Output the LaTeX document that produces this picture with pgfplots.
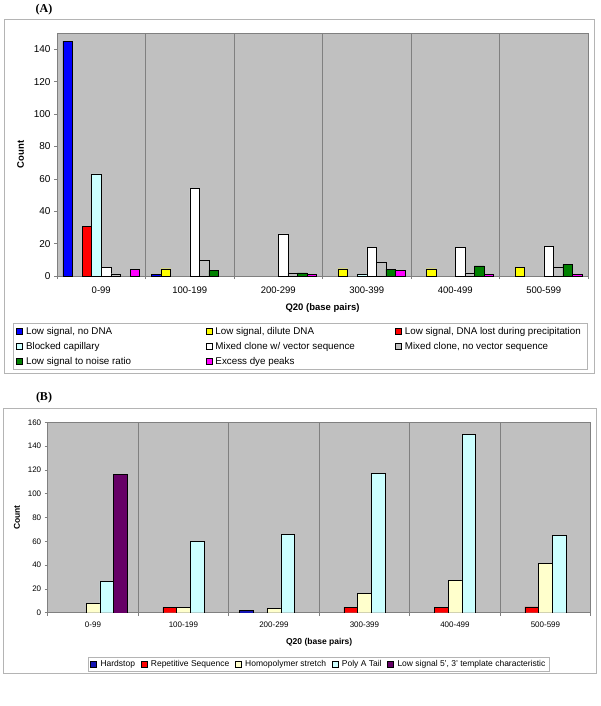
\documentclass[border=0pt]{standalone}
\usepackage{fontspec}
\setmainfont{Liberation Sans}
\newfontfamily\tnr{Liberation Serif}
\usepackage{pgfplots}
\pgfplotsset{compat=1.18}
\definecolor{bgc}{HTML}{C0C0C0}
\definecolor{axc}{HTML}{808080}
\definecolor{frm}{HTML}{B4B4B4}
\definecolor{cblue}{HTML}{0000FF}
\definecolor{cyel}{HTML}{FFFF00}
\definecolor{cred}{HTML}{FF0000}
\definecolor{ccyan}{HTML}{CCFFFF}
\definecolor{cgrey}{HTML}{C0C0C0}
\definecolor{cgreen}{HTML}{008000}
\definecolor{cmag}{HTML}{FF00FF}
\definecolor{bblue}{HTML}{1414B4}
\definecolor{bhom}{HTML}{FFFFCC}
\definecolor{bpur}{HTML}{660066}
\pgfplotsset{
  sqleg/.style={legend image code/.code={\draw[##1,line width=0.4pt,draw=black] (0pt,-3pt) rectangle (6pt,3pt);}},
  excel/.style={
    scale only axis, ybar=0pt,
    xmin=-0.5, xmax=5.5, ymin=0,
    xtick={0,...,5},
    xticklabels={0-99,100-199,200-299,300-399,400-499,500-599},
    minor xtick={-0.5,0.5,...,5.5},
    xminorgrids=true,
    minor x grid style={color=axc,line width=0.5pt},
    major x tick style={draw=none},
    minor x tick style={color=axc,line width=0.5pt},
    y tick style={color=axc,line width=0.5pt},
    minor tick length=3pt, major tick length=3pt,
    tick align=outside,
    xtick pos=bottom, ytick pos=left,
    axis line style={color=axc,line width=0.6pt},
    axis background/.style={fill=bgc},
    /pgf/number format/assume math mode=true,
    every axis plot/.append style={draw=black,line width=0.4pt},
    every axis plot post/.append style={sqleg},
    legend cell align=left,
  }
}
\begin{document}
\begin{tikzpicture}
\useasboundingbox (0,0) rectangle (600pt,-706pt);
\draw[color=frm,line width=0.6pt] (4pt,-19pt) rectangle (594pt,-373pt);
\draw[color=frm,line width=0.6pt] (3pt,-408pt) rectangle (596pt,-673pt);
\node[font=\tnr\bfseries\fontsize{12}{14}\selectfont] at (44pt,-10pt) {(A)};
\node[font=\tnr\bfseries\fontsize{12}{14}\selectfont] at (44pt,-398pt) {(B)};

\begin{axis}[excel,
  at={(57pt,-33pt)}, anchor=north west,
  width=531pt, height=243pt,
  bar width=9.6pt,
  ymax=150, ytick={0,20,...,140},
  tick label style={font=\fontsize{9.5}{11}\selectfont},
  xticklabel style={yshift=-4pt},
  yticklabel style={font=\fontsize{10}{11}\selectfont},
  xlabel={\textbf{Q20 (base pairs)}},
  ylabel={\textbf{Count}},
  every axis x label/.style={at={(axis description cs:0.5,-0.1317)},anchor=center,font=\fontsize{9.5}{11}\selectfont},
  every axis y label/.style={at={(axis description cs:-0.0684,0.5)},rotate=90,anchor=center,font=\fontsize{9.5}{11}\selectfont},
  legend columns=3,
  legend style={at={(axis description cs:-0.0829,-0.1934)},anchor=north west,
    draw=frm, fill=white, font=\fontsize{9.8}{11}\selectfont,
    nodes={inner sep=1.5pt,text height=8.5pt,text depth=1.5pt},
    /tikz/every odd column/.append style={column sep=2pt},
    row sep=2pt, inner xsep=3pt, inner ysep=1.5pt},
]
\addplot[fill=cblue] coordinates {(0,145) (1,1)};
\addplot[fill=cyel] coordinates {(1,4.5) (3,4.5) (4,4.5) (5,5.4)};
\addplot[fill=cred] coordinates {(0,31)};
\addplot[fill=ccyan] coordinates {(0,63) (3,1)};
\addplot[fill=white] coordinates {(0,5.4) (1,54) (2,26) (3,17.6) (4,17.6) (5,18.4)};
\addplot[fill=cgrey] coordinates {(0,1.4) (1,9.5) (2,1.8) (3,8.3) (4,1.9) (5,5.2)};
\addplot[fill=cgreen] coordinates {(1,3.5) (2,2) (3,4.3) (4,6.2) (5,7.2)};
\addplot[fill=cmag] coordinates {(0,4.3) (2,1) (3,3.5) (4,1) (5,1)};
\legend{\makebox[178pt][l]{Low signal, no DNA},
        \makebox[178pt][l]{Low signal, dilute DNA},
        \makebox[178pt][l]{Low signal, DNA lost during precipitation},
        \makebox[178pt][l]{Blocked capillary},
        \makebox[178pt][l]{Mixed clone w/ vector sequence},
        \makebox[178pt][l]{Mixed clone, no vector sequence},
        \makebox[178pt][l]{Low signal to noise ratio},
        \makebox[178pt][l]{Excess dye peaks}}
\end{axis}

\begin{axis}[excel,
  at={(47.7pt,-422.3pt)}, anchor=north west,
  width=543pt, height=190.4pt,
  bar width=13.8pt,
  ymax=160, ytick={0,20,...,160},
  tick label style={font=\fontsize{8}{9}\selectfont},
  xticklabel style={yshift=-3pt},
  xlabel={\textbf{Q20 (base pairs)}},
  ylabel={\textbf{Count}},
  every axis x label/.style={at={(axis description cs:0.5,-0.1539)},anchor=center,font=\fontsize{8.5}{10}\selectfont},
  every axis y label/.style={at={(axis description cs:-0.0565,0.5)},rotate=90,anchor=center,font=\fontsize{8.5}{10}\selectfont},
  legend columns=5,
  legend style={at={(axis description cs:0.4987,-0.2694)},anchor=center,
    draw=frm, fill=white, font=\fontsize{8.5}{10}\selectfont,
    nodes={inner sep=1.5pt,text height=6.5pt,text depth=2pt},
    /tikz/every odd column/.append style={column sep=2.5pt},
    /tikz/every even column/.append style={column sep=4pt},
    inner xsep=2pt, inner ysep=1pt},
]
\addplot[fill=bblue] coordinates {(2,2.5)};
\addplot[fill=cred] coordinates {(1,4.5) (3,4.5) (4,4.5) (5,5)};
\addplot[fill=bhom] coordinates {(0,7.9) (1,4.5) (2,3.7) (3,16.3) (4,27.2) (5,41.5)};
\addplot[fill=ccyan] coordinates {(0,26.4) (1,60) (2,66) (3,117) (4,150) (5,65)};
\addplot[fill=bpur] coordinates {(0,116)};
\legend{Hardstop, Repetitive Sequence, Homopolymer stretch, Poly A Tail, {Low signal 5', 3' template characteristic}}
\end{axis}
\end{tikzpicture}
\end{document}
